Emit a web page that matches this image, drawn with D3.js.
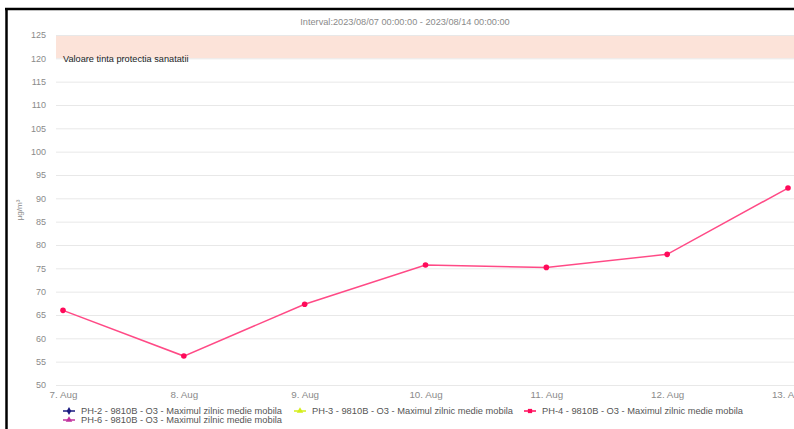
<!DOCTYPE html>
<html lang="en">
<head>
<meta charset="UTF-8">
<title>O3 - Maximul zilnic medie mobila</title>
<script src="https://d3js.org/d3.v7.min.js"></script>
<style>
  body { margin: 0; background: #fff; overflow: hidden; }
  svg { display: block; }
  svg text { font-family: "Liberation Sans", Arial, sans-serif; }
  .tick-label { font-size: 9px; fill: #8a8a8a; }
  .x-label { font-size: 9.8px; fill: #8a8a8a; }
  .legend text { font-size: 9.3px; fill: #555; }
</style>
</head>
<body>
<div id="chart"></div>
<script>
// data
const days = ["2023-08-07", "2023-08-08", "2023-08-09", "2023-08-10", "2023-08-11", "2023-08-12", "2023-08-13"];
const ph4Values = [66.0, 56.2, 67.3, 75.7, 75.2, 78.0, 92.2];
const yTicks = [50, 55, 60, 65, 70, 75, 80, 85, 90, 95, 100, 105, 110, 115, 120, 125];
const bandRange = [120, 125];
const bandLabel = "Valoare tinta protectia sanatatii";
const title = "Interval:2023/08/07 00:00:00 - 2023/08/14 00:00:00";
const legendItems = [
  { name: "PH-2 - 9810B - O3 - Maximul zilnic medie mobila", color: "#1a1a80", symbol: d3.symbolDiamond },
  { name: "PH-3 - 9810B - O3 - Maximul zilnic medie mobila", color: "#d4ee1a", symbol: d3.symbolTriangle },
  { name: "PH-4 - 9810B - O3 - Maximul zilnic medie mobila", color: "#ff0a5a", symbol: d3.symbolSquare },
  { name: "PH-6 - 9810B - O3 - Maximul zilnic medie mobila", color: "#c0329e", symbol: d3.symbolTriangle }
];

const W = 794, H = 429;
const plot = { left: 56, right: 794, top: 35, bottom: 385 };

const svg = d3.select("#chart").append("svg")
  .attr("width", W).attr("height", H);

const parse = d3.timeParse("%Y-%m-%d");
const data = days.map((d, i) => ({ date: parse(d), value: ph4Values[i] }));

const x = d3.scaleTime()
  .domain(d3.extent(data, d => d.date))
  .range([63, 788]);
const y = d3.scaleLinear()
  .domain([50, 125])
  .range([plot.bottom, plot.top]);

// frame
svg.append("line").attr("x1", 5).attr("x2", W).attr("y1", 9).attr("y2", 9)
  .attr("stroke", "#000").attr("stroke-width", 2.5);
svg.append("line").attr("x1", 6.5).attr("x2", 6.5).attr("y1", 8).attr("y2", H)
  .attr("stroke", "#000").attr("stroke-width", 2.5);

// title
svg.append("text")
  .attr("x", 405).attr("y", 25)
  .attr("text-anchor", "middle")
  .attr("font-size", 9.2).attr("fill", "#8a8a8a")
  .text(title);

// plot band
svg.append("rect")
  .attr("x", plot.left).attr("width", plot.right - plot.left)
  .attr("y", y(bandRange[1])).attr("height", y(bandRange[0]) - y(bandRange[1]))
  .attr("fill", "#fce3d9");

// gridlines
const yAxis = d3.axisLeft(y).tickValues(yTicks).tickSize(-(plot.right - plot.left)).tickPadding(10);
const yg = svg.append("g").attr("transform", `translate(${plot.left},0)`).call(yAxis);
yg.select(".domain").remove();
yg.selectAll(".tick line").attr("stroke", "#e8e8e8");
yg.selectAll(".tick text").attr("class", "tick-label").attr("font-family", null).attr("font-size", null);

svg.append("text")
  .attr("x", 63).attr("y", y(bandRange[0]) + 4)
  .attr("font-size", 9.2).attr("fill", "#222")
  .text(bandLabel);

// x axis labels
const xAxis = d3.axisBottom(x).tickValues(data.map(d => d.date))
  .tickFormat(d3.timeFormat("%-d. %b")).tickSize(0).tickPadding(6);
const xg = svg.append("g").attr("transform", `translate(0,${plot.bottom})`).call(xAxis);
xg.select(".domain").remove();
xg.selectAll(".tick text").attr("class", "x-label").attr("font-family", null).attr("font-size", null);

// y axis title
svg.append("text")
  .attr("transform", "translate(22,210) rotate(-90)")
  .attr("text-anchor", "middle")
  .attr("font-size", 8).attr("fill", "#8a8a8a")
  .text("µg/m³");

// series line
const line = d3.line().x(d => x(d.date)).y(d => y(d.value));
svg.append("path").datum(data)
  .attr("fill", "none").attr("stroke", "#ff4a86").attr("stroke-width", 1.5)
  .attr("d", line);
svg.selectAll(".pt").data(data).enter().append("circle")
  .attr("class", "pt")
  .attr("cx", d => x(d.date)).attr("cy", d => y(d.value))
  .attr("r", 2.8).attr("fill", "#ff0a5a");

// legend
const legendPos = [[69, 411], [300, 411], [530, 411], [69, 420]];
const legend = svg.append("g").attr("class", "legend");
legendItems.forEach((item, i) => {
  const [lx, ly] = legendPos[i];
  const g = legend.append("g").attr("transform", `translate(${lx},${ly})`);
  g.append("line").attr("x1", -6).attr("x2", 6).attr("y1", 0).attr("y2", 0)
    .attr("stroke", item.color).attr("stroke-width", 1.5);
  g.append("path").attr("d", d3.symbol().type(item.symbol).size(18)())
    .attr("fill", item.color);
  g.append("text").attr("x", 12).attr("y", 3).text(item.name);
});
</script>
</body>
</html>
